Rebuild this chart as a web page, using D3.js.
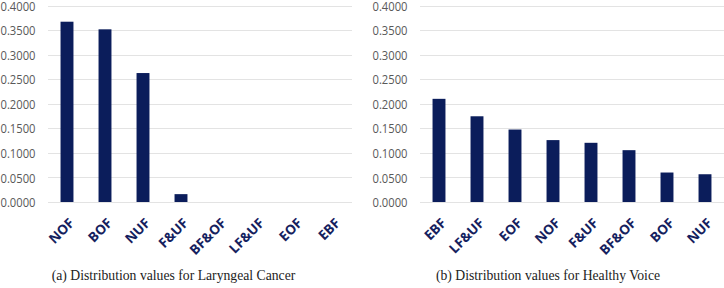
<!DOCTYPE html>
<html>
<head>
<meta charset="utf-8">
<script src="https://cdn.jsdelivr.net/npm/d3@7"></script>
<style>
  body { margin: 0; background: #fff; }
  svg { display: block; }
</style>
</head>
<body>
<svg id="chart" width="724" height="288"></svg>
<script>
// values
const cancerCats = ['NOF', 'BOF', 'NUF', 'F&UF', 'BF&OF', 'LF&UF', 'EOF', 'EBF'];
const cancerVals = [0.3670, 0.3515, 0.2625, 0.0160, 0, 0, 0, 0];

const healthyCats = ['EBF', 'LF&UF', 'EOF', 'NOF', 'F&UF', 'BF&OF', 'BOF', 'NUF'];
const healthyVals = [0.2100, 0.1745, 0.1475, 0.1260, 0.1205, 0.1055, 0.0600, 0.0565];

const yTicks = [0, 0.05, 0.1, 0.15, 0.2, 0.25, 0.3, 0.35, 0.4];

const captions = [
  '(a) Distribution values for Laryngeal Cancer',
  '(b) Distribution values for Healthy Voice'
];

const svg = d3.select('#chart');

const barColor = '#0b1d5b';

const drawPanel = (x0, x1, cats, vals, caption, capShift) => {

  const g = svg.append('g');

  const x = d3.scaleBand()
    .domain(cats)
    .range([x0, x1])
    .paddingInner(0.66)
    .paddingOuter(0.33);

  const y = d3.scaleLinear()
    .domain([0, 0.4])
    .range([202, 5.5]);

  // gridlines
  g.append('g')
    .selectAll('line')
    .data(yTicks)
    .enter()
    .append('line')
    .attr('x1', x0)
    .attr('x2', x1)
    .attr('y1', d => Math.round(y(d)) + 0.5)
    .attr('y2', d => Math.round(y(d)) + 0.5)
    .attr('stroke', '#e3e3e3')
    .attr('stroke-width', 1);

  // y axis labels
  const yAxis = d3.axisLeft(y)
    .tickValues(yTicks)
    .tickFormat(d3.format('.4f'))
    .tickSize(0)
    .tickPadding(0);

  g.append('g')
    .attr('transform', `translate(${x0 - 12.5},0)`)
    .call(yAxis)
    .call(a => a.select('.domain').remove())
    .selectAll('text')
    .attr('dy', '0.38em')
    .attr('font-family', '"Open Sans", sans-serif')
    .attr('font-size', 12)
    .attr('textLength', 35)
    .attr('lengthAdjust', 'spacingAndGlyphs')
    .attr('fill', '#595959');

  // bars
  g.append('g')
    .selectAll('rect')
    .data(cats.map((c, i) => ({ c, v: vals[i] })))
    .enter()
    .append('rect')
    .attr('x', d => x(d.c))
    .attr('width', x.bandwidth())
    .attr('y', d => y(d.v))
    .attr('height', d => y(0) - y(d.v))
    .attr('fill', barColor);

  // x axis labels, rotated
  const xAxis = d3.axisBottom(x).tickSize(0).tickPadding(0);

  g.append('g')
    .attr('transform', `translate(0,${y(0)})`)
    .call(xAxis)
    .call(a => a.select('.domain').remove())
    .selectAll('text')
    .attr('font-family', '"Open Sans", sans-serif')
    .attr('font-weight', 'bold')
    .attr('font-size', 13.5)
    .attr('fill', '#14215e')
    .attr('text-anchor', 'end')
    .attr('dy', null)
    .attr('transform', 'translate(8,22) rotate(-45)');

  // caption
  g.append('text')
    .attr('x', (x0 + x1) / 2 + capShift)
    .attr('y', 280)
    .attr('text-anchor', 'middle')
    .attr('font-family', '"Liberation Serif", serif')
    .attr('font-size', 13.7)
    .attr('fill', '#222')
    .text(caption);
};

drawPanel(48, 352, cancerCats, cancerVals, captions[0], -26.5);
drawPanel(420, 724, healthyCats, healthyVals, captions[1], -24);
</script>
</body>
</html>
